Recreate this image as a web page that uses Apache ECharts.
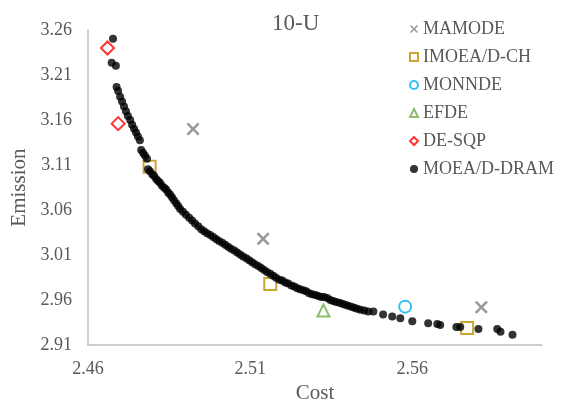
<!DOCTYPE html>
<html>
<head>
    <meta charset="utf-8">
    <title>10-U</title>
    <style>
        html, body {
            margin: 0;
            padding: 0;
            background: #fff;
        }

        #chart {
            width: 562px;
            height: 409px;
        }
    </style>
</head>
<body>
    <div id="chart"></div>
</body>
<script type="text/javascript" src="https://cdn.jsdelivr.net/npm/echarts@6/dist/echarts.min.js"></script>
<script type="text/javascript">
    // 各算法的结果 (Cost, Emission)
    var mamode = [[2.4924, 3.150], [2.5140, 3.028], [2.5813, 2.952]];
    var imoeaCh = [[2.4790, 3.108], [2.5162, 2.978], [2.5769, 2.929]];
    var monnde = [[2.5578, 2.9527]];
    var efde = [[2.5326, 2.9484]];
    var deSqp = [[2.4660, 3.240], [2.4693, 3.156]];

    // MOEA/D-DRAM 的 Pareto 前沿
    var dramCost = [
        2.4677, 2.4673, 2.4686, 2.4688, 2.4693, 2.4699, 2.4705, 2.4711, 2.4717, 2.4723,
        2.4730, 2.4736, 2.4742, 2.4748, 2.4754, 2.4760, 2.4764, 2.4770, 2.4776, 2.4782,
        2.4785, 2.4791, 2.4798, 2.4804, 2.4810, 2.4816, 2.4822, 2.4828, 2.4835, 2.4841,
        2.4847, 2.4853, 2.4859, 2.4865, 2.4872, 2.4878, 2.4884, 2.4893, 2.4902, 2.4912,
        2.4921, 2.4930, 2.4940, 2.4949, 2.4958, 2.4967, 2.4977, 2.4986, 2.4995, 2.5004,
        2.5014, 2.5023, 2.5032, 2.5041, 2.5051, 2.5060, 2.5069, 2.5078, 2.5088, 2.5097,
        2.5106, 2.5115, 2.5125, 2.5134, 2.5143, 2.5152, 2.5162, 2.5171, 2.5180, 2.5190,
        2.5199, 2.5208, 2.5217, 2.5227, 2.5236, 2.5245, 2.5254, 2.5264, 2.5273, 2.5282,
        2.5291, 2.5301, 2.5310, 2.5319, 2.5328, 2.5338, 2.5347, 2.5356, 2.5365, 2.5375,
        2.5384, 2.5393, 2.5402, 2.5412, 2.5421, 2.5430, 2.5440, 2.5452, 2.5464, 2.5480,
        2.5510, 2.5538, 2.5563, 2.5600, 2.5649, 2.5677, 2.5686, 2.5736, 2.5748, 2.5804,
        2.5862, 2.5872, 2.5909
    ];
    var dramEmission = [
        3.2503, 3.2235, 3.2202, 3.1966, 3.1923, 3.1858, 3.1805, 3.1751, 3.1697, 3.1644,
        3.1601, 3.1547, 3.1504, 3.1461, 3.1418, 3.1375, 3.1267, 3.1235, 3.1203, 3.1171,
        3.1053, 3.1031, 3.0999, 3.0977, 3.0945, 3.0924, 3.0902, 3.0870, 3.0848, 3.0827,
        3.0795, 3.0773, 3.0741, 3.0709, 3.0676, 3.0644, 3.0612, 3.0580, 3.0547, 3.0515,
        3.0483, 3.0451, 3.0419, 3.0386, 3.0365, 3.0343, 3.0322, 3.0300, 3.0279, 3.0257,
        3.0236, 3.0214, 3.0193, 3.0171, 3.0150, 3.0128, 3.0107, 3.0085, 3.0064, 3.0042,
        3.0021, 2.9999, 2.9978, 2.9956, 2.9935, 2.9913, 2.9892, 2.9870, 2.9849, 2.9827,
        2.9817, 2.9795, 2.9785, 2.9763, 2.9752, 2.9731, 2.9720, 2.9709, 2.9699, 2.9677,
        2.9666, 2.9656, 2.9645, 2.9634, 2.9634, 2.9623, 2.9602, 2.9591, 2.9580, 2.9570,
        2.9559, 2.9548, 2.9537, 2.9527, 2.9516, 2.9505, 2.9494, 2.9484, 2.9473, 2.9473,
        2.9441, 2.9419, 2.9398, 2.9365, 2.9344, 2.9333, 2.9322, 2.9301, 2.9301, 2.9279,
        2.9279, 2.9247, 2.9215
    ];

    var xMin = 2.46, xMax = 2.60, xStep = 0.05;
    var yMin = 2.91, yMax = 3.26, yStep = 0.05;

    var serifFont = '"Liberation Serif", "Times New Roman", serif';
    var crossPath = 'path://M0,1.4L1.4,0L5,3.6L8.6,0L10,1.4L6.4,5L10,8.6L8.6,10L5,6.4L1.4,10L0,8.6L3.6,5Z';

    var dram = [];
    for (var i = 0; i < dramCost.length; i++) {
        dram.push([dramCost[i], dramEmission[i]]);
    }

    var myChart = echarts.init(document.getElementById('chart'));
    var option = {
        backgroundColor: '#fff',
        animation: false,
        textStyle: {
            fontFamily: serifFont
        },
        title: {
            text: '10-U',
            left: 267,
            top: 7,
            textStyle: {
                fontFamily: serifFont,
                fontWeight: 'normal',
                fontSize: 23,
                color: '#595959'
            }
        },
        legend: {
            orient: 'vertical',
            left: 404,
            top: 14,
            itemWidth: 8,
            itemHeight: 8,
            itemGap: 8,
            textStyle: {
                fontFamily: serifFont,
                fontSize: 18,
                lineHeight: 20,
                color: '#595959'
            },
            data: ['MAMODE', 'IMOEA/D-CH', 'MONNDE', 'EFDE', 'DE-SQP', 'MOEA/D-DRAM']
        },
        grid: {
            left: 88,
            right: 20,
            top: 30,
            bottom: 54
        },
        xAxis: {
            type: 'value',
            min: xMin,
            max: xMax,
            interval: xStep,
            name: 'Cost',
            nameLocation: 'middle',
            nameGap: 30,
            nameTextStyle: {
                fontFamily: serifFont,
                fontSize: 21,
                color: '#595959'
            },
            axisLine: {
                show: true,
                lineStyle: { color: '#bfbfbf', width: 1.5 }
            },
            axisTick: { show: false },
            splitLine: { show: false },
            axisLabel: {
                showMaxLabel: false,
                margin: 15,
                fontFamily: serifFont,
                fontSize: 18,
                color: '#595959',
                formatter: function(v) {
                    return v.toFixed(2);
                }
            }
        },
        yAxis: {
            type: 'value',
            min: yMin,
            max: yMax,
            interval: yStep,
            name: 'Emission',
            nameLocation: 'middle',
            nameGap: 52,
            nameTextStyle: {
                fontFamily: serifFont,
                fontSize: 21,
                color: '#595959'
            },
            axisLine: {
                show: true,
                lineStyle: { color: '#bfbfbf', width: 1.5 }
            },
            axisTick: { show: false },
            splitLine: { show: false },
            axisLabel: {
                margin: 16,
                fontFamily: serifFont,
                fontSize: 18,
                color: '#595959',
                formatter: function(v) {
                    return v.toFixed(2);
                }
            }
        },
        series: [{
            name: 'MAMODE',
            type: 'scatter',
            symbol: crossPath,
            symbolSize: 13,
            itemStyle: { color: '#808080' },
            data: mamode
        }, {
            name: 'IMOEA/D-CH',
            type: 'scatter',
            symbol: 'rect',
            symbolSize: 12,
            itemStyle: { color: '#fff', borderColor: '#bf9000', borderWidth: 2 },
            data: imoeaCh
        }, {
            name: 'MONNDE',
            type: 'scatter',
            symbol: 'circle',
            symbolSize: 12,
            itemStyle: { color: '#fff', borderColor: '#00b0f0', borderWidth: 2 },
            data: monnde
        }, {
            name: 'EFDE',
            type: 'scatter',
            symbol: 'triangle',
            symbolSize: 12,
            itemStyle: { color: '#fff', borderColor: '#70ad47', borderWidth: 2 },
            data: efde
        }, {
            name: 'DE-SQP',
            type: 'scatter',
            symbol: 'diamond',
            symbolSize: 13,
            itemStyle: { color: '#fff', borderColor: '#ff0000', borderWidth: 2 },
            data: deSqp
        }, {
            name: 'MOEA/D-DRAM',
            type: 'scatter',
            symbol: 'circle',
            symbolSize: 8,
            itemStyle: { color: '#000' },
            data: dram
        }]
    };
    myChart.setOption(option);
</script>
</html>
